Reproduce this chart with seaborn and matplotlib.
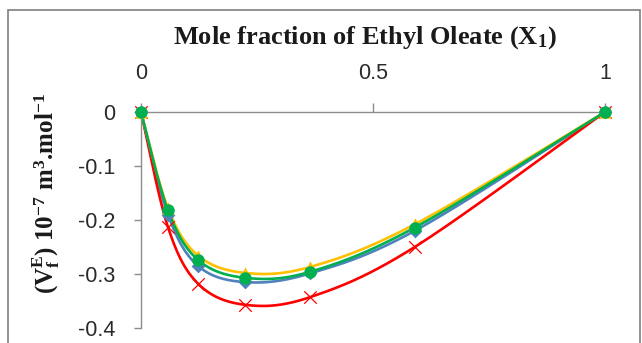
import numpy as np
import pandas as pd
import matplotlib
matplotlib.use("Agg")
import matplotlib.pyplot as plt
import seaborn as sns
from matplotlib.patches import Rectangle

# ---- data ----
x1 = [0.0, 0.058, 0.123, 0.224, 0.364, 0.59, 1.0]
s_blue = [0.0, -0.190, -0.285, -0.315, -0.299, -0.220, 0.0]
s_red = [0.0, -0.213, -0.318, -0.357, -0.343, -0.250, 0.0]
s_yellow = [0.0, -0.178, -0.266, -0.298, -0.287, -0.208, 0.0]
s_green = [0.0, -0.182, -0.274, -0.307, -0.296, -0.214, 0.0]
x_ticks = [0, 0.5, 1]
x_tick_labels = ["0", "0.5", "1"]
y_ticks = [0, -0.1, -0.2, -0.3, -0.4]
y_tick_labels = ["0", "-0.1", "-0.2", "-0.3", "-0.4"]

sns.set_theme(style="white")
plt.rcParams["mathtext.fontset"] = "custom"
plt.rcParams["mathtext.rm"] = "Liberation Serif:bold"
plt.rcParams["mathtext.it"] = "Liberation Serif:bold:italic"
plt.rcParams["mathtext.bf"] = "Liberation Serif:bold"
plt.rcParams["mathtext.default"] = "rm"


def smooth(xs, ys, n=40):
    """Excel-like smoothed line (Catmull-Rom as cubic Bezier)."""
    P = np.column_stack([xs, ys]).astype(float)
    P_ext = np.vstack([P[0], P, P[-1]])
    out = []
    t = np.linspace(0, 1, n)[:, None]
    for i in range(1, len(P_ext) - 2):
        p0, p1, p2, p3 = P_ext[i - 1], P_ext[i], P_ext[i + 1], P_ext[i + 2]
        b1 = p1 + (p2 - p0) / 6.0
        b2 = p2 - (p3 - p1) / 6.0
        seg = ((1 - t) ** 3) * p1 + 3 * ((1 - t) ** 2) * t * b1 + 3 * (1 - t) * t ** 2 * b2 + t ** 3 * p2
        out.append(seg if i == 1 else seg[1:])
    arr = np.vstack(out)
    return arr[:, 0], arr[:, 1]


W, H = 642, 343
fig = plt.figure(figsize=(W / 100, H / 100), dpi=100)
ax = fig.add_axes([141 / W, 1 - 328 / H, (605 - 141) / W, (328 - 112) / H])

series = [
    (s_blue, "#4F81BD", "D", 7),
    (s_red, "#FF0000", "x", 9),
    (s_yellow, "#FFC000", "^", 9),
    (s_green, "#00B050", "o", 9),
]

for ys, col, mk, ms in series:
    xd, yd = smooth(x1, ys)
    sns.lineplot(x=xd, y=yd, ax=ax, color=col, lw=1.9, sort=False,
                 estimator=None, clip_on=False)
    df = pd.DataFrame({"x": x1, "y": ys})
    if mk == "x":
        sns.scatterplot(data=df, x="x", y="y", ax=ax, marker="x", s=ms ** 2,
                        color=col, linewidth=0.9, clip_on=False, zorder=5)
    else:
        sns.scatterplot(data=df, x="x", y="y", ax=ax, marker=mk, s=ms ** 2,
                        color=col, edgecolor=col, linewidth=0, clip_on=False,
                        zorder=5)

ax.set_xlim(0, 1)
ax.set_ylim(-0.4, 0)
ax.set_xlabel("")
ax.set_ylabel("")

for side in ["right", "bottom"]:
    ax.spines[side].set_visible(False)
for side in ["left", "top"]:
    ax.spines[side].set_color("#8c8c8c")
    ax.spines[side].set_linewidth(1.0)

tick_font = ["Liberation Sans", "DejaVu Sans"]
ax.xaxis.tick_top()
ax.set_xticks(x_ticks)
ax.set_xticklabels(x_tick_labels, fontsize=15.5, family=tick_font, color="#2a2a2a")
ax.set_yticks(y_ticks)
ax.set_yticklabels(y_tick_labels, fontsize=15.5, family=tick_font, color="#2a2a2a")
ax.tick_params(axis="x", top=True, direction="out", length=6.5, width=1,
               color="#8c8c8c", pad=14)
ax.tick_params(axis="y", left=True, direction="out", length=5, width=1,
               color="#8c8c8c", pad=13.5)

fig.text(365 / W, 1 - 38 / H, r"Mole fraction of Ethyl Oleate (X$_\mathbf{1}$)",
         ha="center", va="center", fontsize=19, family="Liberation Serif",
         fontweight="bold", color="#1a1a1a")
fig.text(46 / W, 1 - 193 / H, r"(V$_f^E$) 10$^{-7}$ m$^3$.mol$^{-1}$",
         ha="center", va="center", rotation=90, fontsize=18,
         family="Liberation Serif", fontweight="bold", color="#1a1a1a")

fig.add_artist(Rectangle((8 / W, -0.2), (640 - 8) / W, 1.2 - 10 / H,
                         transform=fig.transFigure, fill=False,
                         edgecolor="#7f7f7f", lw=1.2))

fig.savefig("out.png", dpi=100)
